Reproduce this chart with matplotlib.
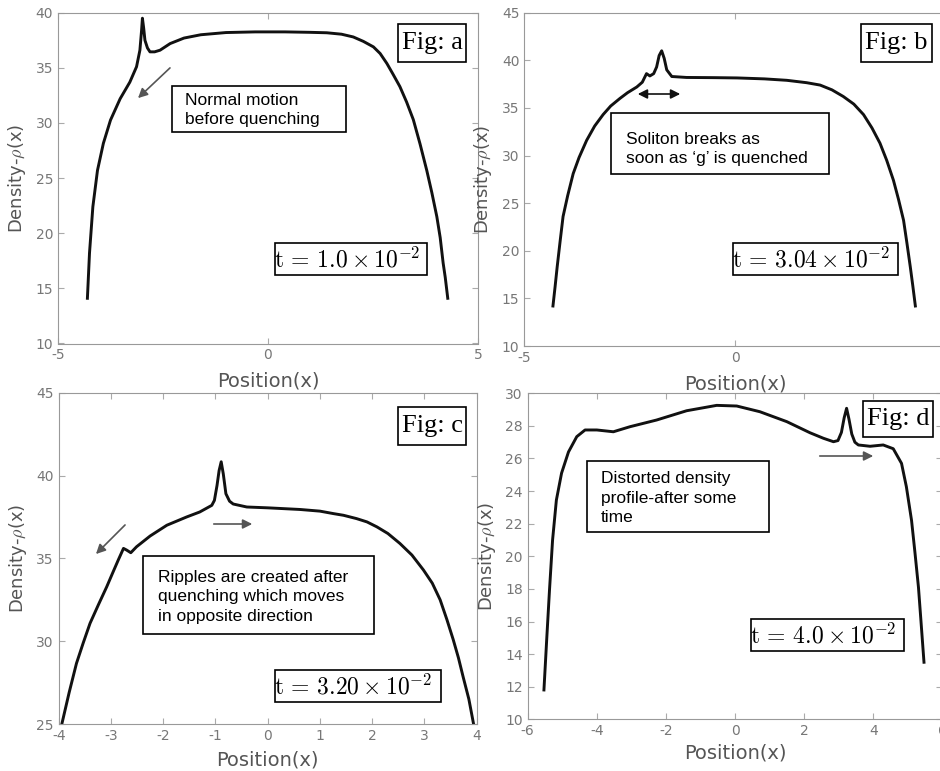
import numpy as np
import matplotlib
matplotlib.use("Agg")
import matplotlib.pyplot as plt
from matplotlib.patches import Rectangle, FancyArrowPatch

plt.rcParams["axes.unicode_minus"] = False
plt.rcParams["mathtext.fontset"] = "cm"
plt.rcParams["font.family"] = ["DejaVu Sans"]

W, H = 940, 771

# Fig a: t = 1.0e-2
xa = [-4.30, -4.25, -4.17, -4.06, -3.92, -3.75, -3.52, -3.29, -3.13, -3.05,
      -3.01, -2.99, -2.96, -2.93, -2.87, -2.81, -2.70, -2.57, -2.33, -2.0,
      -1.6, -1.0, -0.3, 0.4, 1.0, 1.4, 1.75, 2.03, 2.27, 2.51, 2.67, 2.83,
      2.98, 3.14, 3.30, 3.46, 3.62, 3.78, 3.90, 4.02, 4.10, 4.17, 4.22, 4.28]
ya = [14.1, 18.2, 22.4, 25.7, 28.15, 30.26, 32.2, 33.7, 35.1, 36.6,
      38.4, 39.5, 38.6, 37.5, 36.8, 36.45, 36.45, 36.6, 37.2, 37.7,
      38.0, 38.2, 38.26, 38.26, 38.22, 38.18, 38.05, 37.8, 37.4, 36.9, 36.3, 35.4,
      34.4, 33.3, 31.9, 30.3, 28.1, 25.7, 23.7, 21.5, 19.6, 17.3, 16.0, 14.1]

# Fig b: t = 3.04e-2
xb = [-4.32, -4.27, -4.22, -4.15, -4.08, -3.97, -3.84, -3.70, -3.52, -3.33,
      -3.13, -2.95, -2.73, -2.55, -2.33, -2.20, -2.10, -2.02, -1.93, -1.86,
      -1.80, -1.74, -1.68, -1.62, -1.50, -1.15, -0.5, 0.05, 0.7, 1.23, 1.7,
      2.02, 2.3, 2.57, 2.82, 3.05, 3.25, 3.44, 3.6, 3.76, 3.88, 4.0, 4.08,
      4.16, 4.22, 4.28]
yb = [14.2, 16.2, 18.3, 21.0, 23.6, 25.8, 28.1, 29.8, 31.6, 33.1,
      34.3, 35.2, 36.0, 36.6, 37.2, 37.7, 38.6, 38.36, 38.6, 39.3,
      40.5, 41.0, 40.2, 39.0, 38.3, 38.2, 38.18, 38.15, 38.05, 37.9, 37.65,
      37.4, 36.9, 36.2, 35.4, 34.3, 32.9, 31.3, 29.5, 27.4, 25.4, 23.2, 20.8,
      18.3, 16.3, 14.2]

# Fig c: t = 3.20e-2
xc = [-3.94, -3.80, -3.66, -3.53, -3.40, -3.24, -3.08, -2.97, -2.86, -2.76,
      -2.70, -2.62, -2.51, -2.25, -1.93, -1.55, -1.30, -1.07, -1.02, -0.97,
      -0.93, -0.89, -0.85, -0.80, -0.73, -0.66, -0.40, 0.0, 0.62, 1.0, 1.26,
      1.45, 1.70, 1.9, 2.09, 2.30, 2.53, 2.76, 2.98, 3.15, 3.30, 3.43, 3.55,
      3.65, 3.74, 3.85, 3.94]
yc = [25.0, 26.9, 28.66, 29.9, 31.08, 32.2, 33.29, 34.1, 34.9, 35.6,
      35.5, 35.34, 35.7, 36.35, 37.0, 37.5, 37.8, 38.2, 38.5, 39.4,
      40.3, 40.83, 40.1, 38.9, 38.45, 38.28, 38.1, 38.05, 37.95, 37.85, 37.7,
      37.6, 37.4, 37.2, 36.9, 36.5, 35.9, 35.2, 34.3, 33.5, 32.5, 31.3, 30.1,
      29.0, 27.85, 26.5, 25.0]

# Fig d: t = 4.0e-2
xd = [-5.53, -5.45, -5.37, -5.28, -5.17, -5.02, -4.82, -4.58, -4.34, -4.00,
      -3.52, -3.04, -2.27, -1.40, -0.53, 0.05, 0.72, 1.50, 2.17, 2.56, 2.85,
      2.98, 3.08, 3.16, 3.23, 3.30, 3.38, 3.47, 3.57, 3.91, 4.29, 4.58, 4.82,
      4.96, 5.11, 5.21, 5.31, 5.38, 5.47]
yd = [11.8, 14.9, 17.9, 21.0, 23.45, 25.1, 26.4, 27.34, 27.75, 27.75,
      27.64, 27.95, 28.36, 28.93, 29.26, 29.22, 28.87, 28.26, 27.58, 27.24, 27.03,
      27.1, 27.6, 28.5, 29.08, 28.4, 27.5, 27.0, 26.83, 26.75, 26.83, 26.6, 25.7,
      24.27, 22.2, 20.2, 18.1, 16.1, 13.5]

fig_labels = ["Fig: a", "Fig: b", "Fig: c", "Fig: d"]
time_labels = [r"$\mathrm{t}\, =\, 1.0\times10^{-2}$",
               r"$\mathrm{t}\, =\, 3.04\times10^{-2}$",
               r"$\mathrm{t}\, =\, 3.20\times10^{-2}$",
               r"$\mathrm{t}\, =\, 4.0\times10^{-2}$"]
notes = ["Normal motion\nbefore quenching",
         "Soliton breaks as\nsoon as \u2018g\u2019 is quenched",
         "Ripples are created after\nquenching which moves\nin opposite direction",
         "Distorted density\nprofile-after some\ntime"]


def px(x, y):
    return x / W, 1 - y / H


def box(fig, x0, y0, x1, y1):
    fx0, fy1 = px(x0, y0)
    fx1, fy0 = px(x1, y1)
    fig.add_artist(Rectangle((fx0, fy0), fx1 - fx0, fy1 - fy0, transform=fig.transFigure,
                             facecolor="white", edgecolor="black", lw=1.2, zorder=5))


def text(fig, x, y, s, **kw):
    fx, fy = px(x, y)
    fig.text(fx, fy, s, zorder=6, **kw)


def arrow(fig, x0, y0, x1, y1, style="-|>", color="#555555"):
    fig.add_artist(FancyArrowPatch(
        px(x0, y0), px(x1, y1), transform=fig.transFigure, arrowstyle=style,
        mutation_scale=14, color=color, lw=1.2, zorder=6))


fig = plt.figure(figsize=(9.4, 7.71), dpi=100)
ax_a = fig.add_axes([58 / W, 1 - 343.5 / H, 420 / W, 330.8 / H])
ax_b = fig.add_axes([524.3 / W, 1 - 346 / H, 421.4 / W, 333.3 / H])
ax_c = fig.add_axes([58.7 / W, 1 - 724 / H, 418 / W, 331.3 / H])
ax_d = fig.add_axes([527.7 / W, 1 - 719.3 / H, 414.6 / W, 326 / H])

panels = [
    (ax_a, xa, ya, (-5, 5), (10, 40), [-5, 0, 5], np.arange(10, 41, 5), 28),
    (ax_b, xb, yb, (-5, 5), (10, 45), [-5, 0, 5], np.arange(10, 46, 5), 28),
    (ax_c, xc, yc, (-4, 4), (25, 45), np.arange(-4, 5, 1), np.arange(25, 46, 5), 26),
    (ax_d, xd, yd, (-6, 6), (10, 30), np.arange(-6, 7, 2), np.arange(10, 31, 2), 25),
]

for ax, x, y, xl, yl, xt, yt, pad in panels:
    ax.plot(x, y, color="#111111", lw=2.1)
    ax.set_xlim(*xl)
    ax.set_ylim(*yl)
    ax.set_xticks(xt)
    ax.set_yticks(yt)
    ax.tick_params(direction="in", top=True, right=True, labelsize=10,
                   colors="#aaaaaa", labelcolor="#777777", length=4)
    for sp in ax.spines.values():
        sp.set_color("#999999")
    ax.set_xlabel("Position(x)", fontsize=14, color="#555555")
    ax.set_ylabel(r"Density-$\rho$(x)", fontsize=13, color="#555555")
    ax.xaxis.set_label_coords(0.5, -pad / 331)
    ax.yaxis.set_label_coords(-30 / 418, 0.5)

# Fig a
box(fig, 398, 24, 466, 62)
text(fig, 432, 43, fig_labels[0], family="Liberation Serif", fontsize=19, ha="center", va="center")
box(fig, 172, 86, 346, 132)
text(fig, 185, 110, notes[0], family="Liberation Sans", fontsize=12.5, va="center", linespacing=1.35)
arrow(fig, 172, 66, 136, 100)
box(fig, 275, 243, 427, 275)
text(fig, 274, 260, time_labels[0], fontsize=17, va="center")

# Fig b
box(fig, 861, 24, 932, 62)
text(fig, 896, 43, fig_labels[1], family="Liberation Serif", fontsize=19, ha="center", va="center")
arrow(fig, 635, 94, 683, 94, style="<|-|>", color="#111111")
box(fig, 611, 113, 829, 174)
text(fig, 626, 149, notes[1], family="Liberation Sans", fontsize=12.5, va="center", linespacing=1.35)
box(fig, 733, 243, 898, 275)
text(fig, 732, 260, time_labels[1], fontsize=17, va="center")

# Fig c
box(fig, 398, 407, 466, 445)
text(fig, 432, 426, fig_labels[2], family="Liberation Serif", fontsize=19, ha="center", va="center")
arrow(fig, 127, 523, 94, 556)
arrow(fig, 211, 524, 255, 524)
box(fig, 143, 556, 374, 634)
text(fig, 158, 597, notes[2], family="Liberation Sans", fontsize=12.5, va="center", linespacing=1.35)
box(fig, 275, 670, 441, 702)
text(fig, 274, 687, time_labels[2], fontsize=17, va="center")

# Fig d
box(fig, 863, 401, 933, 437)
text(fig, 898, 419, fig_labels[3], family="Liberation Serif", fontsize=19, ha="center", va="center")
arrow(fig, 817, 456, 876, 456)
box(fig, 587, 461, 769, 532)
text(fig, 601, 498, notes[3], family="Liberation Sans", fontsize=12.5, va="center", linespacing=1.35)
box(fig, 751, 619, 904, 651)
text(fig, 750, 636, time_labels[3], fontsize=17, va="center")

fig.savefig("out.png", dpi=100)
